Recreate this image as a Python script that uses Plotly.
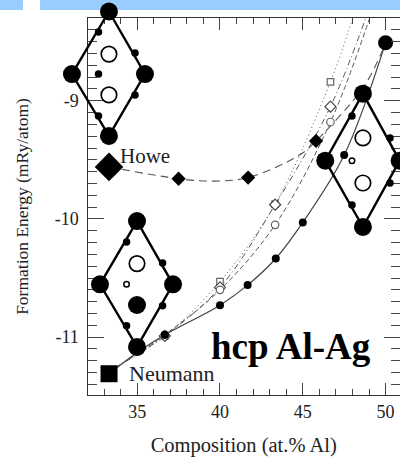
import plotly.graph_objects as go

# ---- measured curves ----
howe_x = [33.3, 37.5, 39.65, 41.7, 44.8, 45.8, 48.73, 50]
howe_y = [-9.56, -9.66, -9.68, -9.65, -9.46, -9.34, -8.87, -8.51]
howe_mark_x = [37.5, 41.7, 45.8]
howe_mark_y = [-9.66, -9.65, -9.34]

neu_x = [33.67, 35, 36.67, 40, 41.67, 43.37, 45, 47.5, 50]
neu_y = [-11.27, -11.13, -10.98, -10.73, -10.56, -10.335, -10.03, -9.46, -8.51]
neu_mark_x = [36.67, 40, 41.67, 43.37, 45, 47.5]
neu_mark_y = [-10.98, -10.73, -10.56, -10.335, -10.03, -9.46]

open_x = [33.67, 36.67, 40, 43.33, 46.67]
sq_y = [-11.26, -10.99, -10.53, -9.875, -8.84]
di_y = [-11.26, -10.99, -10.58, -9.88, -9.05]
ci_y = [-11.26, -10.98, -10.6, -10.05, -9.18]
end_x = [48.01, 48.8, 49.04]
end_y = -8.3

# ---- lattice insets ----
d1_x = [33.31, 35.48, 33.31, 31.08, 33.31]
d1_y = [-8.247, -8.776, -9.30, -8.776, -8.247]
d1_small_x = [32.68, 34.88, 34.88, 32.68, 32.68]
d1_small_y = [-8.42, -8.598, -8.953, -9.131, -8.776]
d1_open_x = [33.31, 33.31]
d1_open_y = [-8.607, -8.953]

d2_x = [35, 37.17, 35, 32.77, 35]
d2_y = [-10.02, -10.555, -11.085, -10.555, -10.02]
d2_small_x = [34.37, 36.54, 36.54, 34.37]
d2_small_y = [-10.197, -10.375, -10.736, -10.905]
d2_open_x = [35]
d2_open_y = [-10.38]
d2_tiny_x = [34.37]
d2_tiny_y = [-10.555]
d2_fill_x = [35]
d2_fill_y = [-10.73]

d3_x = [48.61, 50.82, 48.61, 46.34, 48.61]
d3_y = [-8.942, -9.509, -10.07, -9.509, -8.942]
d3_small_x = [47.95, 50.24, 50.24, 47.95]
d3_small_y = [-9.131, -9.317, -9.698, -9.884]
d3_open_x = [48.61, 48.61]
d3_open_y = [-9.317, -9.698]
d3_tiny_x = [47.95]
d3_tiny_y = [-9.509]

FONT = "Liberation Serif"
GREY = "#555555"
W, H, L, T, B = 400, 457, 87.5, 18, 62
X0, XSCALE, Y0, YSCALE = 35.0, 16.6, -9.0, 118.2  # axis calibration: px per unit about x=137, y=100.5
fig = go.Figure()


def line(x, y, dash, color=GREY, width=1.0):
    fig.add_trace(go.Scatter(x=x, y=y, mode="lines",
                             line=dict(color=color, width=width, dash=dash, shape="spline"),
                             hoverinfo="skip"))


def marks(x, y, symbol, size, color="black", lw=0, fill=None, axes=("x", "y")):
    fig.add_trace(go.Scatter(x=x, y=y, mode="markers", cliponaxis=False, xaxis=axes[0], yaxis=axes[1],
                             marker=dict(symbol=symbol, size=size, color=fill or color,
                                         line=dict(color=color, width=lw)),
                             hoverinfo="skip"))


line(open_x + [end_x[0]], sq_y + [end_y], "1px 3px")
line(open_x + [end_x[1]], di_y + [end_y], "6px 3px 1px 3px")
line(open_x + [end_x[2]], ci_y + [end_y], "5px 3px")
line(neu_x, neu_y, "solid", color="#444444", width=1.2)
line(howe_x, howe_y, "8px 5px", color="#555555", width=1.1)

marks(open_x[1:], sq_y[1:], "square", 6.5, color="#666666", lw=1.2, fill="white")
marks(open_x[1:], di_y[1:], "diamond", 8.5, color="#444444", lw=1.2, fill="white")
marks(open_x[1:], ci_y[1:], "circle", 7.5, color="#666666", lw=1.2, fill="white")

marks(howe_mark_x, howe_mark_y, "diamond", 11)
marks([howe_x[0]], [howe_y[0]], "diamond", 22)
marks(neu_mark_x, neu_mark_y, "circle", 8)
marks([neu_x[-1]], [neu_y[-1]], "circle", 15)
marks([33.3], [-11.31], "square", 17)

OV = ("x2", "y2")
for dx, dy, sx, sy in [(d1_x, d1_y, d1_small_x, d1_small_y),
                       (d2_x, d2_y, d2_small_x, d2_small_y),
                       (d3_x, d3_y, d3_small_x, d3_small_y)]:
    fig.add_trace(go.Scatter(x=dx, y=dy, mode="lines", cliponaxis=False, xaxis="x2", yaxis="y2",
                             line=dict(color="black", width=2.4), hoverinfo="skip"))
    marks(dx[:4], dy[:4], "circle", 18, axes=OV)
    marks(sx, sy, "circle", 7.5, axes=OV)

marks(d1_open_x, d1_open_y, "circle", 15.5, lw=1.7, fill="white", axes=OV)
marks(d2_open_x, d2_open_y, "circle", 15.5, lw=1.7, fill="white", axes=OV)
marks(d3_open_x, d3_open_y, "circle", 15.5, lw=1.7, fill="white", axes=OV)
marks(d2_tiny_x, d2_tiny_y, "circle", 5.5, lw=1.5, fill="white", axes=OV)
marks(d3_tiny_x, d3_tiny_y, "circle", 5.5, lw=1.5, fill="white", axes=OV)
marks(d2_fill_x, d2_fill_y, "circle", 18, axes=OV)

annotations = [
    dict(x=33.85, y=-9.47, text="Howe", showarrow=False, xanchor="left", yanchor="middle",
         font=dict(family=FONT, size=21, color="#222222")),
    dict(x=34.4, y=-11.31, text="Neumann", showarrow=False, xanchor="left", yanchor="middle",
         font=dict(family=FONT, size=22, color="#222222")),
    dict(x=44.3, y=-11.08, text="<b>hcp Al-Ag</b>", showarrow=False, xanchor="center", yanchor="middle",
         font=dict(family=FONT, size=37, color="black")),
]

shapes = [
    dict(type="rect", xref="paper", yref="paper", x0=0, x1=23 / W, y0=1 - 10 / H, y1=1,
         fillcolor="#99CCFF", line_width=0, layer="below"),
    dict(type="rect", xref="paper", yref="paper", x0=40 / W, x1=1, y0=1 - 10 / H, y1=1,
         fillcolor="#99CCFF", line_width=0, layer="below"),
]

fig.update_layout(
    width=W, height=H, showlegend=False, paper_bgcolor="white", plot_bgcolor="rgba(0,0,0,0)",
    margin=dict(l=0, r=0, t=0, b=0), annotations=annotations, shapes=shapes,
    font=dict(family=FONT, color="#222222"),
    xaxis=dict(
        domain=[L / W, 1], range=[32.0, 50.87], tickvals=[35, 40, 45, 50], showgrid=False, zeroline=False,
        ticks="inside", ticklen=12, tickwidth=1, tickcolor="#444444",
        minor=dict(dtick=1, tick0=32, ticks="inside", ticklen=6, tickcolor="#444444", showgrid=False),
        showline=True, linecolor="#333333", linewidth=1.2, mirror="ticks",
        tickfont=dict(family=FONT, size=18, color="#222222"),
        title=dict(text="Composition (at.% Al)", font=dict(family=FONT, size=20.5, color="#222222"), standoff=18),
    ),
    yaxis=dict(
        domain=[B / H, 1 - T / H], range=[-11.49, -8.30], tickvals=[-9, -10, -11], ticktext=["-9", "-10", "-11"],
        showgrid=False, zeroline=False, ticklabelstandoff=4,
        ticks="inside", ticklen=16, tickwidth=1, tickcolor="#444444",
        minor=dict(dtick=0.1, tick0=-9, ticks="inside", ticklen=9, tickcolor="#444444", showgrid=False),
        showline=True, linecolor="#333333", linewidth=1.2, mirror="ticks",
        tickfont=dict(family=FONT, size=18, color="#222222"),
        title=dict(text="Formation Energy (mRy/atom)", font=dict(family=FONT, size=17.5, color="#222222"), standoff=21),
    ),
    xaxis2=dict(domain=[0, 1], anchor="y2", visible=False,
                range=[X0 - 137 / XSCALE, X0 + (W - 137) / XSCALE]),
    yaxis2=dict(domain=[0, 1], anchor="x2", visible=False,
                range=[Y0 - (H - 100.5) / YSCALE, Y0 + 100.5 / YSCALE]),
)

fig.write_html("out.html", config=dict(displayModeBar=False),
               post_script="document.body.style.margin='0';document.body.style.overflow='hidden';")
